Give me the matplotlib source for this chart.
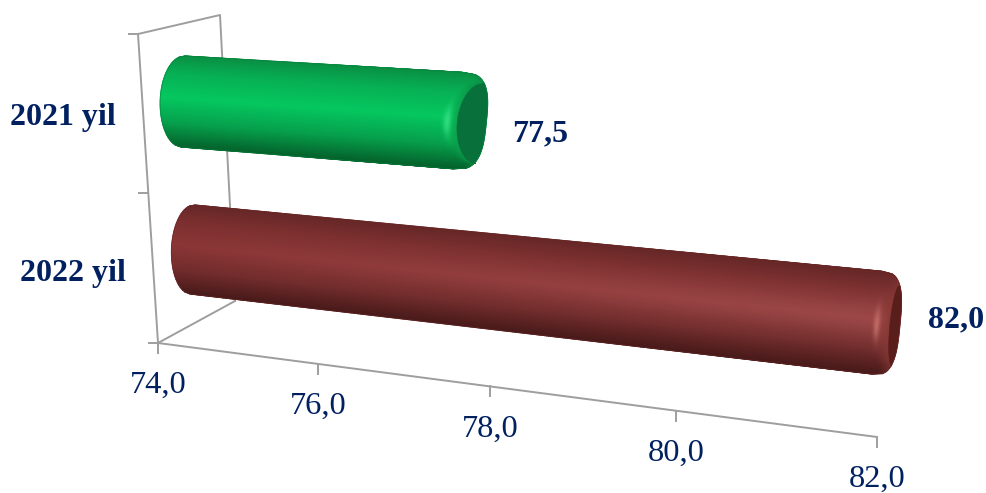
import numpy as np
import matplotlib
matplotlib.use("Agg")
import matplotlib.pyplot as plt

# ---- data ----
categories = ["2021 yil", "2022 yil"]
values = [77.5, 82.0]
value_labels = ["77,5", "82,0"]
x_ticks = [74.0, 76.0, 78.0, 80.0, 82.0]
x_tick_labels = ["74,0", "76,0", "78,0", "80,0", "82,0"]

# ---- styling ----
plt.rcParams["font.family"] = ["Liberation Serif", "DejaVu Serif"]
TEXT = "#002060"
AXIS = "#9e9e9e"
X_MIN, X_MAX = 74.0, 82.0
W_PERSP = 1.166

# Per-series: top/bottom edge of the cylinder at the axis minimum and maximum
geom = [
    dict(top0=(185, 56), top1=(898, 98), bot0=(181, 147), bot1=(880, 203),
         L=23, R=21, c=8, depth=23, v0=0.10, v1=0.93, ridge=10, sig=4.0,
         stops=["#0a9044", "#07b054", "#05c860", "#06a04c", "#04632c"],
         bright=0.0, ridgec="#35e085", bevel="#0ca84f", face="#08703a",
         edge="#07803e"),
    dict(top0=(195, 205), top1=(890, 272), bot0=(190, 294), bot1=(880, 375),
         L=21, R=15, c=8, depth=6, v0=0.12, v1=0.90, ridge=13, sig=3.0,
         stops=["#662727", "#7c2f2f", "#8c3636", "#722c2c", "#491a1a"],
         bright=0.07, ridgec="#c8726a", bevel="#8a3a36", face="#591d1c",
         edge="#6b2726"),
]


def perspective(val):
    """Scale from data value to fraction along the foreshortened axis."""
    t = (np.asarray(val, dtype=float) - X_MIN) / (X_MAX - X_MIN)
    return t / (t + W_PERSP * (1 - t))


def axis_xy(val):
    a = perspective(val)
    return 158 + 719 * a, 343 + 94 * a


def hex_rgb(c):
    return np.array(matplotlib.colors.to_rgb(c))


def prof(v, p):
    return np.clip(1 - np.abs(2 * v - 1) ** p, 0, 1) ** (1 / p)


def place(g, a, v):
    xt = g["top0"][0] + a * (g["top1"][0] - g["top0"][0])
    yt = g["top0"][1] + a * (g["top1"][1] - g["top0"][1])
    xb = g["bot0"][0] + a * (g["bot1"][0] - g["bot0"][0])
    yb = g["bot0"][1] + a * (g["bot1"][1] - g["bot0"][1])
    return xt + v * (xb - xt), yt + v * (yb - yt)


def draw_cylinder(ax, value, g):
    span = g["top1"][0] - g["top0"][0]
    a_end = float(perspective(value))

    def sil_left(v):
        return -g["L"] / span * prof(v, 2.0)

    def sil_right(v):
        return a_end + (-g["c"] + (g["R"] + g["c"]) * prof(v, 3.0)) / span

    def face_left(v):
        u = np.clip((v - g["v0"]) / (g["v1"] - g["v0"]), 0, 1)
        off0 = -g["c"] + (g["R"] + g["c"]) * prof(np.array(g["v0"]), 3.0)
        return a_end + (off0 - g["depth"] * prof(u, 2.0)) / span

    vs = np.linspace(0, 1, 61)
    ws = np.linspace(0, 1, 401)
    V, Wt = np.meshgrid(vs, ws, indexing="ij")
    a_l, a_r, a_f = sil_left(V), sil_right(V), face_left(V)
    A = a_l + Wt * (a_r - a_l)
    X, Y = place(g, A, V)

    stop_v = [0.0, 0.2, 0.47, 0.75, 1.0]
    st = np.array([hex_rgb(c) for c in g["stops"]])
    C = np.stack([np.interp(V, stop_v, st[:, i]) for i in range(3)], axis=-1)
    C = C + g["bright"] * (np.clip(A, 0, None)[..., None] / max(a_end, 1e-6)) * np.exp(-((V[..., None] - 0.47) / 0.22) ** 2)
    # bevel and ridge highlight near the end
    dist = (a_f - A) * span
    bev = np.clip(1 - dist / g["ridge"], 0, 1)[..., None]
    bevcol = hex_rgb(g["bevel"]) * (0.68 + 0.32 * prof(V, 2.0))[..., None]
    C = C * (1 - bev) + bevcol * bev
    glow = 0.9 * np.exp(-((dist - g["ridge"]) / g["sig"]) ** 2) * np.exp(-((V - 0.52) / 0.15) ** 2)
    C = C * (1 - glow[..., None]) + hex_rgb(g["ridgec"]) * glow[..., None]
    C = np.clip(C, 0, 1)
    ax.pcolormesh(X, Y, C, shading="gouraud", zorder=3)

    # flat end face
    vf = np.linspace(g["v0"], g["v1"], 61)
    xf, yf = place(g, face_left(vf), vf)
    xr, yr = place(g, sil_right(vf), vf)
    ax.fill(np.r_[xf, xr[::-1]], np.r_[yf, yr[::-1]], color=g["face"], lw=0.4, zorder=4)

    # soft silhouette
    xl, yl = place(g, sil_left(vs), vs)
    xo, yo = place(g, sil_right(vs), vs)
    ax.plot(np.r_[xl, xo[::-1], xl[0]], np.r_[yl, yo[::-1], yl[0]],
            color=g["edge"], lw=0.8, alpha=0.5, zorder=5)


fig = plt.figure(figsize=(9.87, 4.93), dpi=100, facecolor="white")
ax = fig.add_axes([0, 0, 1, 1])
ax.set_xlim(0, 987)
ax.set_ylim(493, 0)
ax.axis("off")

# 3-D frame
lw = 1.4
ax.plot([138, 158], [34, 343], color=AXIS, lw=lw, zorder=1)
ax.plot([138, 220, 235], [34, 15, 301], color=AXIS, lw=lw, zorder=1)
ax.plot([158, 235], [343, 301], color=AXIS, lw=lw, zorder=1)
for xa, ya in [(138, 34), (148, 193), (158, 343)]:
    ax.plot([xa - 9, xa], [ya, ya], color=AXIS, lw=lw, zorder=1)

# x axis
tx, ty = axis_xy(np.array(x_ticks))
ax.plot(tx, ty, color=AXIS, lw=lw, zorder=1)
for xv, yv, lab in zip(tx, ty, x_tick_labels):
    ax.plot([xv, xv], [yv, yv + 10], color=AXIS, lw=lw, zorder=1)
    ax.text(xv, yv + 42.5, lab, ha="center", va="center", fontsize=23.4, color=TEXT)

# bars, back to front
for val, g in zip(values, geom):
    draw_cylinder(ax, val, g)

# labels
for cat, (cx, cy) in zip(categories, [(63, 118), (73, 273)]):
    ax.text(cx, cy, cat, ha="center", va="center", fontsize=23, fontweight="bold", color=TEXT)
for lab, (cx, cy) in zip(value_labels, [(540, 134), (956, 320)]):
    ax.text(cx, cy, lab, ha="center", va="center", fontsize=23, fontweight="bold", color=TEXT)

fig.savefig("out.png", dpi=100, facecolor="white")
